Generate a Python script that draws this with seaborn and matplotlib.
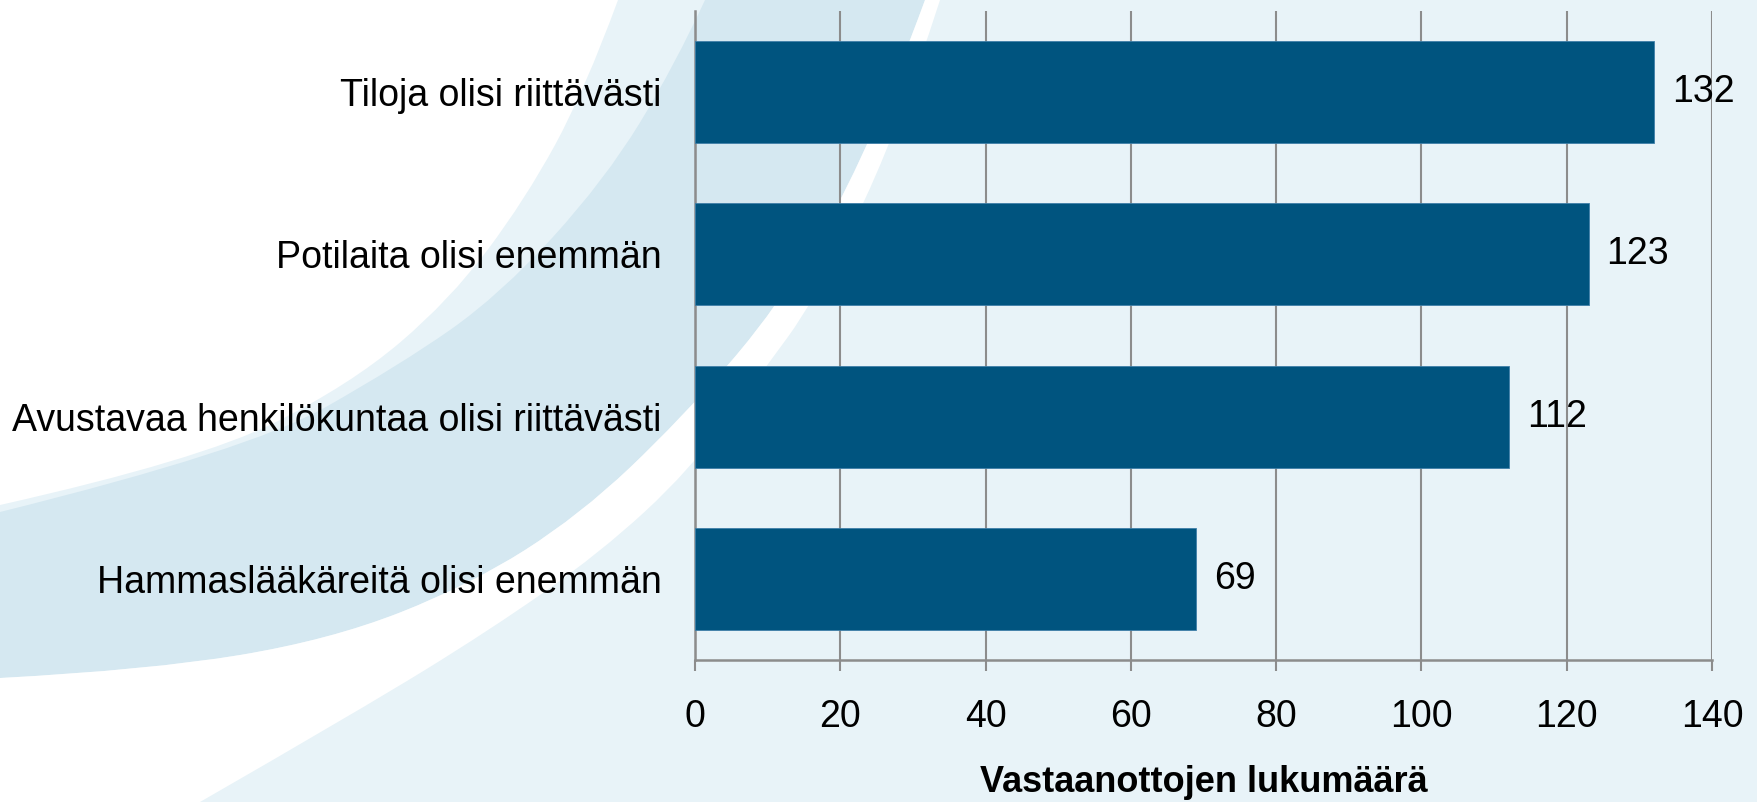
import numpy as np
import pandas as pd
import matplotlib
matplotlib.use('Agg')
import matplotlib.pyplot as plt
from matplotlib.path import Path
from matplotlib.patches import PathPatch
import seaborn as sns

# chart data
categories = ['Tiloja olisi riittävästi',
              'Potilaita olisi enemmän',
              'Avustavaa henkilökuntaa olisi riittävästi',
              'Hammaslääkäreitä olisi enemmän']
counts = [132, 123, 112, 69]
x_ticks = [0, 20, 40, 60, 80, 100, 120, 140]
x_title = 'Vastaanottojen lukumäärä'

df = pd.DataFrame({'kategoria': categories, 'lukumaara': counts})

sns.set_style('white')
plt.rcParams['font.family'] = ['Liberation Sans', 'DejaVu Sans']
plt.rcParams['text.color'] = 'black'
plt.rcParams['xtick.labelcolor'] = 'black'
plt.rcParams['ytick.labelcolor'] = 'black'
plt.rcParams['axes.labelcolor'] = 'black'

bar_color = '#00547F'
light_bg = '#E8F3F8'
mid_bg = '#D5E8F1'
grid_col = '#8C8C8C'

W, H = 1758, 802
fig = plt.figure(figsize=(W / 100, H / 100), dpi=100, facecolor=light_bg)


def smooth_path(pts):
    # quadratic bezier through the midpoints of the given control points
    pts = [(x / W, 1 - y / H) for x, y in pts]
    verts = [pts[0]]
    codes = [Path.MOVETO]
    for i in range(1, len(pts) - 1):
        mid = ((pts[i][0] + pts[i + 1][0]) / 2, (pts[i][1] + pts[i + 1][1]) / 2)
        if i == len(pts) - 2:
            mid = pts[-1]
        verts += [pts[i], mid]
        codes += [Path.CURVE3, Path.CURVE3]
    return verts, codes


def add_shape(edges, color):
    verts, codes = [], []
    for k, e in enumerate(edges):
        if isinstance(e, list):
            v, c = smooth_path(e)
            if k > 0:
                c[0] = Path.LINETO
            verts += v
            codes += c
        else:
            verts.append((e[0] / W, 1 - e[1] / H))
            codes.append(Path.MOVETO if k == 0 else Path.LINETO)
    verts.append(verts[0])
    codes.append(Path.CLOSEPOLY)
    fig.patches.append(PathPatch(Path(verts, codes), facecolor=color,
                                 edgecolor='none', transform=fig.transFigure, zorder=-10))


# background swooshes
curve_t = [(618, 0), (585, 90), (525, 200), (450, 300), (350, 385), (200, 460), (0, 505)]
curve_a = [(705, 0), (675, 65), (605, 180), (500, 295), (400, 365), (250, 450), (0, 512)]
curve_b = [(0, 678), (150, 670), (330, 640), (470, 585), (580, 515), (680, 420), (780, 305), (870, 150), (925, 0)]
curve_w = [(940, 0), (895, 140), (815, 300), (760, 375), (690, 470), (600, 553), (490, 630), (360, 710), (200, 802)]

add_shape([(0, 0)] + [curve_t], 'white')
add_shape([curve_a, (0, 678), curve_b], mid_bg)
add_shape([curve_b, curve_w, (0, 802)], 'white')

ax = fig.add_axes([695 / W, 1 - 660 / H, (1712 - 695) / W, (660 - 11) / H])
ax.patch.set_alpha(0)

sns.barplot(data=df, x='lukumaara', y='kategoria', orient='h', color=bar_color,
            width=0.63, saturation=1, edgecolor='#3F7FA8', linewidth=0.6, ax=ax, zorder=3)

ax.set_xlim(0, 140)
ax.set_ylim(3.5, -0.5)
ax.set_xticks(x_ticks)
ax.set_xticklabels([str(t) for t in x_ticks])
ax.xaxis.grid(True, color=grid_col, linewidth=1.5, zorder=0)
ax.yaxis.grid(False)
ax.set_axisbelow(True)

for s in ['top', 'right']:
    ax.spines[s].set_visible(False)
for s in ['left', 'bottom']:
    ax.spines[s].set_color(grid_col)
    ax.spines[s].set_linewidth(1.8)

ax.tick_params(axis='x', length=8, width=1.5, color=grid_col, pad=20, labelsize=27,
               bottom=True, labelcolor='black')
ax.tick_params(axis='y', length=0, pad=24, labelsize=27, labelcolor='black')
ax.set_ylabel('')
ax.set_xlabel(x_title, fontsize=26, fontweight='bold', labelpad=22, color='black')

for c in ax.containers:
    ax.bar_label(c, labels=[str(v) for v in counts], padding=13, fontsize=27, color='black')

fig.savefig('out.png', dpi=100, facecolor=light_bg)
